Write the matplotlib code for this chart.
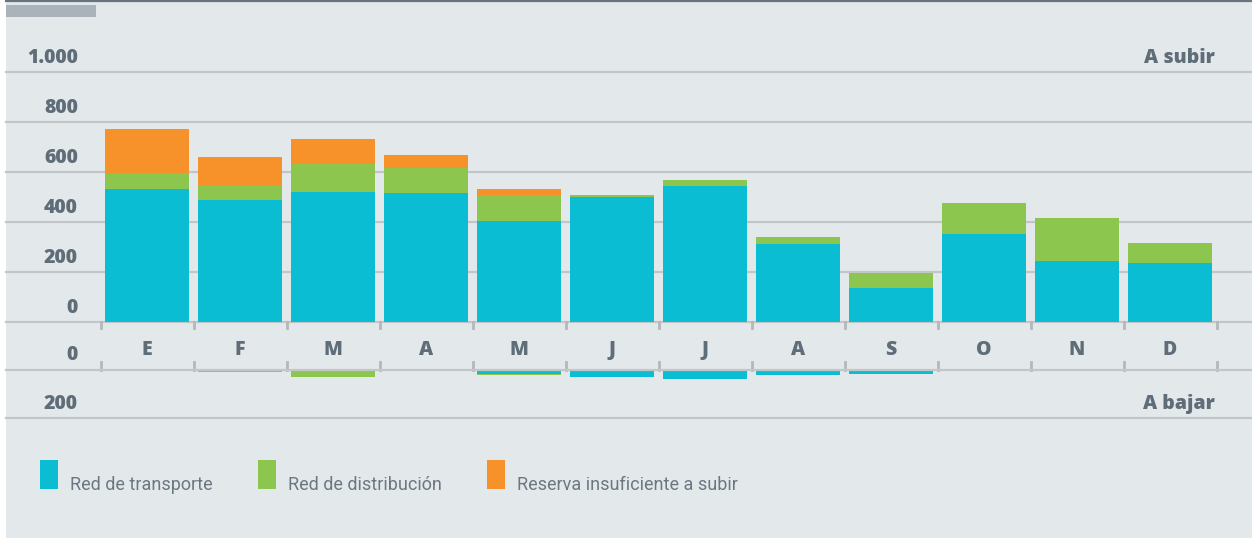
import numpy as np
import matplotlib
matplotlib.use("Agg")
import matplotlib.pyplot as plt
from matplotlib.patches import Rectangle
from matplotlib.lines import Line2D

# data (MWh / month)
meses = ["E", "F", "M", "A", "M", "J", "J", "A", "S", "O", "N", "D"]
transporte_sub = [531, 488, 520, 515, 403, 499, 543, 311, 135, 351, 243, 235]
distribucion_sub = [64, 59, 112, 101, 104, 8, 24, 28, 60, 124, 172, 80]
reserva_sub = [176, 112, 99, 51, 24, 0, 0, 0, 0, 0, 0, 0]
transporte_baj = [0, 0, 0, 0, 16, 29, 38, 20, 16, 0, 0, 0]
distribucion_baj = [0, 10, 29, 0, 4, 0, 0, 3, 0, 5, 0, 0]
ticks_sub = [0, 200, 400, 600, 800, 1000]
tick_labels_sub = ["0", "200", "400", "600", "800", "1.000"]

CYAN = "#0bbdd3"
GREEN = "#8cc64f"
ORANGE = "#f7922a"
BG = "#e3e8eb"
GRID = "#c3c6c9"
LABEL = "#5f6d78"
LEG = "#6c7881"

W, H = 1252, 538
fig = plt.figure(figsize=(W / 100, H / 100), dpi=100)
fig.patch.set_facecolor("white")


def fx(x):
    return x / W


def fy(y):
    return 1 - y / H


fig.patches.append(Rectangle((fx(6), 0), 1 - fx(6), 1, transform=fig.transFigure,
                             facecolor=BG, edgecolor="none", zorder=-10))
fig.patches.append(Rectangle((fx(6), fy(17)), fx(90), 12 / H, transform=fig.transFigure,
                             facecolor="#a9b3b9", edgecolor="none"))
fig.add_artist(Line2D([fx(6), 1], [fy(1), fy(1)], color="#6a747c", lw=1.6))

x = np.arange(len(meses))
xlim = ((6 - 147) / 93, (1252 - 147) / 93)
lab_font = dict(family="Open Sans", weight=800, size=14, color=LABEL)

# upper panel
y0, ytop = 321.7, 30
k1 = 0.25  # px per unit
ax1 = fig.add_axes([fx(6), fy(y0), 1 - fx(6), (y0 - ytop) / H])
ax1.set_xlim(*xlim)
ax1.set_ylim(0, (y0 - ytop) / k1)
ax1.axis("off")
for t in ticks_sub:
    ax1.axhline(t, color=GRID, lw=1.6, zorder=0, clip_on=False)
w = 0.9
t_arr = np.array(transporte_sub)
d_arr = np.array(distribucion_sub)
ax1.bar(x, transporte_sub, width=w, color=CYAN, zorder=2)
ax1.bar(x, distribucion_sub, width=w, bottom=t_arr, color=GREEN, zorder=2)
ax1.bar(x, reserva_sub, width=w, bottom=t_arr + d_arr, color=ORANGE, zorder=2)
lx = (78 - 6) / 1246
for t, lab in zip(ticks_sub, tick_labels_sub):
    ax1.text(lx, t + 56, lab, transform=ax1.get_yaxis_transform(),
             ha="right", va="center", **lab_font)
ax1.text((1215 - 6) / 1246, 1000 + 56, "A subir", transform=ax1.get_yaxis_transform(),
         ha="right", va="center", **lab_font)
for i, m in enumerate(meses):
    ax1.text(i, -(350 - y0) / k1, m, ha="center", va="center", clip_on=False, **lab_font)
for i in range(len(meses) + 1):
    ax1.plot([i - 0.5, i - 0.5], [0, -26], color="#b4b8bb", lw=2, clip_on=False, zorder=1)

# lower panel
y0b, ybot = 369.7, 430
k2 = 0.243
ax2 = fig.add_axes([fx(6), fy(ybot), 1 - fx(6), (ybot - y0b) / H])
ax2.set_xlim(*xlim)
ax2.set_ylim(-(ybot - y0b) / k2, 0)
ax2.axis("off")
for t in [0, -200]:
    ax2.axhline(t, color=GRID, lw=1.6, zorder=3 if t == 0 else 0, clip_on=False)
tb = -np.array(transporte_baj)
ax2.bar(x, tb, width=w, color=CYAN, zorder=2)
ax2.bar(x, -np.array(distribucion_baj), width=w, bottom=tb, color=GREEN, zorder=2)
ax2.text(lx, 0 + 60, "0", transform=ax2.get_yaxis_transform(),
         ha="right", va="center", clip_on=False, **lab_font)
ax2.text(lx, -200 + 57, "200", transform=ax2.get_yaxis_transform(),
         ha="right", va="center", **lab_font)
ax2.text((1215 - 6) / 1246, -200 + 57, "A bajar", transform=ax2.get_yaxis_transform(),
         ha="right", va="center", **lab_font)
for i in range(len(meses) + 1):
    ax2.plot([i - 0.5, i - 0.5], [0, 33], color="#b4b8bb", lw=2, clip_on=False, zorder=1)

# legend
leg_items = [("Red de transporte", CYAN, 40), ("Red de distribución", GREEN, 258),
             ("Reserva insuficiente a subir", ORANGE, 487)]
for lab, col, px in leg_items:
    fig.patches.append(Rectangle((fx(px), fy(489)), 18 / W, 29 / H, transform=fig.transFigure,
                                 facecolor=col, edgecolor="none"))
    fig.text(fx(px + 30), fy(490), lab, ha="left", va="baseline",
             family="Roboto", size=13, color=LEG)

fig.savefig("out.png", dpi=100, facecolor=fig.get_facecolor())
